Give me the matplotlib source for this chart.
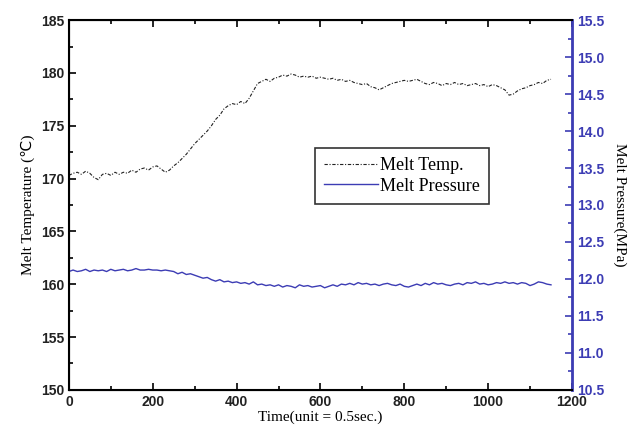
import numpy as np
import matplotlib.pyplot as plt
from matplotlib.ticker import MultipleLocator

time = np.arange(0, 1160, 10)

melt_temp = [
    170.3, 170.5, 170.6, 170.4, 170.7, 170.5, 170.1, 169.9, 170.4, 170.5,
    170.3, 170.6, 170.4, 170.6, 170.5, 170.8, 170.6, 170.9, 171.0, 170.8,
    171.1, 171.2, 170.9, 170.6, 170.8, 171.2, 171.5, 171.9, 172.3, 172.8,
    173.3, 173.7, 174.1, 174.5, 175.0, 175.6, 176.0, 176.6, 176.9, 177.1,
    177.0, 177.3, 177.1, 177.6, 178.3, 179.0, 179.2, 179.4, 179.2, 179.5,
    179.6, 179.8, 179.7, 179.9, 179.8, 179.6, 179.7, 179.6, 179.7, 179.5,
    179.6, 179.5, 179.4, 179.5, 179.3, 179.4, 179.2, 179.3, 179.1, 179.0,
    178.9, 179.0, 178.7, 178.6, 178.4, 178.6, 178.8, 179.0, 179.1, 179.2,
    179.3, 179.2, 179.3, 179.4, 179.2, 179.0, 178.9, 179.1, 179.0, 178.8,
    179.0, 178.9, 179.1, 178.9, 179.0, 178.8, 178.9, 179.0, 178.8, 178.9,
    178.7, 178.9, 178.8, 178.6, 178.4, 177.9, 178.0, 178.3, 178.5, 178.6,
    178.8, 178.9, 179.1, 179.0, 179.3, 179.4,
]

melt_pressure = [
    12.10, 12.12, 12.10, 12.11, 12.13, 12.10, 12.12, 12.11, 12.12, 12.10,
    12.13, 12.11, 12.12, 12.13, 12.11, 12.12, 12.14, 12.12, 12.12, 12.13,
    12.12, 12.12, 12.11, 12.12, 12.11, 12.10, 12.07, 12.09, 12.06, 12.07,
    12.05, 12.03, 12.01, 12.02, 11.99, 11.97, 11.99, 11.96, 11.97, 11.95,
    11.96, 11.94, 11.95, 11.93, 11.96, 11.92, 11.93, 11.91, 11.92, 11.90,
    11.92, 11.89, 11.91, 11.90, 11.88, 11.92, 11.90, 11.91, 11.89, 11.90,
    11.91, 11.88, 11.90, 11.92, 11.90, 11.93, 11.92, 11.94, 11.92, 11.95,
    11.93, 11.94, 11.92, 11.93, 11.91, 11.93, 11.94, 11.92, 11.91, 11.93,
    11.90, 11.89, 11.91, 11.93, 11.91, 11.94, 11.92, 11.95, 11.93, 11.94,
    11.92, 11.91, 11.93, 11.94, 11.92, 11.95, 11.94, 11.96, 11.93, 11.94,
    11.92, 11.93, 11.95, 11.94, 11.96, 11.94, 11.95, 11.93, 11.95, 11.94,
    11.91, 11.93, 11.96, 11.95, 11.93, 11.92,
]

blue = '#3c3cb4'

fig = plt.figure(figsize=(6.32, 4.38), dpi=100)
ax = fig.add_axes([0.109, 0.11, 0.796, 0.844])
ax2 = ax.twinx()

l1, = ax.plot(time, melt_temp, color='#222222', lw=0.8,
              dashes=(3, 1.5, 1, 1.5), label='Melt Temp.')
l2, = ax2.plot(time, melt_pressure, color=blue, lw=1.0,
               label='Melt Pressure')

ax.set_xlim(0, 1200)
ax.set_ylim(150, 185)
ax2.set_ylim(10.5, 15.5)

ax.xaxis.set_major_locator(MultipleLocator(200))
ax.xaxis.set_minor_locator(MultipleLocator(100))
ax.yaxis.set_major_locator(MultipleLocator(5))
ax.yaxis.set_minor_locator(MultipleLocator(2.5))
ax2.yaxis.set_major_locator(MultipleLocator(0.5))
ax2.yaxis.set_minor_locator(MultipleLocator(0.25))

tick_font = dict(family='Liberation Sans', weight='bold', size=10)
ax.tick_params(axis='x', which='both', direction='in', top=True, width=1.2)
ax.tick_params(axis='y', which='both', direction='in', width=1.2)
ax.tick_params(which='major', length=5)
ax.tick_params(which='minor', length=3)
for lab in ax.get_xticklabels() + ax.get_yticklabels():
    lab.set_fontproperties(tick_font)
    lab.set_color('#222222')

ax2.tick_params(axis='y', which='both', direction='in', colors=blue, width=1.2)
ax2.tick_params(which='major', length=5)
ax2.tick_params(which='minor', length=3)
for lab in ax2.get_yticklabels():
    lab.set_fontproperties(tick_font)

for side in ['left', 'bottom', 'top']:
    ax2.spines[side].set_linewidth(1.5)
ax2.spines['right'].set_color(blue)
ax2.spines['right'].set_linewidth(2)

label_font = dict(family='Liberation Serif', size=11)
ax.set_xlabel('Time(unit = 0.5sec.)', labelpad=1, **label_font)
ax.set_ylabel('Melt Temperature (\u2103)', labelpad=4,
              family=['Liberation Serif', 'DejaVu Sans'], size=11)
ax2.set_ylabel('Melt Pressure(MPa)', rotation=270, labelpad=16, **label_font)

leg = ax.legend(handles=[l1, l2], loc='upper left',
                bbox_to_anchor=(0.489, 0.654), borderaxespad=0,
                frameon=True, fancybox=False, edgecolor='black',
                prop=dict(family='Liberation Serif', size=13),
                handlelength=3.0, handletextpad=0.1, borderpad=0.5,
                labelspacing=0.2)
leg.get_frame().set_linewidth(1.2)

fig.savefig('out.png', dpi=100)
